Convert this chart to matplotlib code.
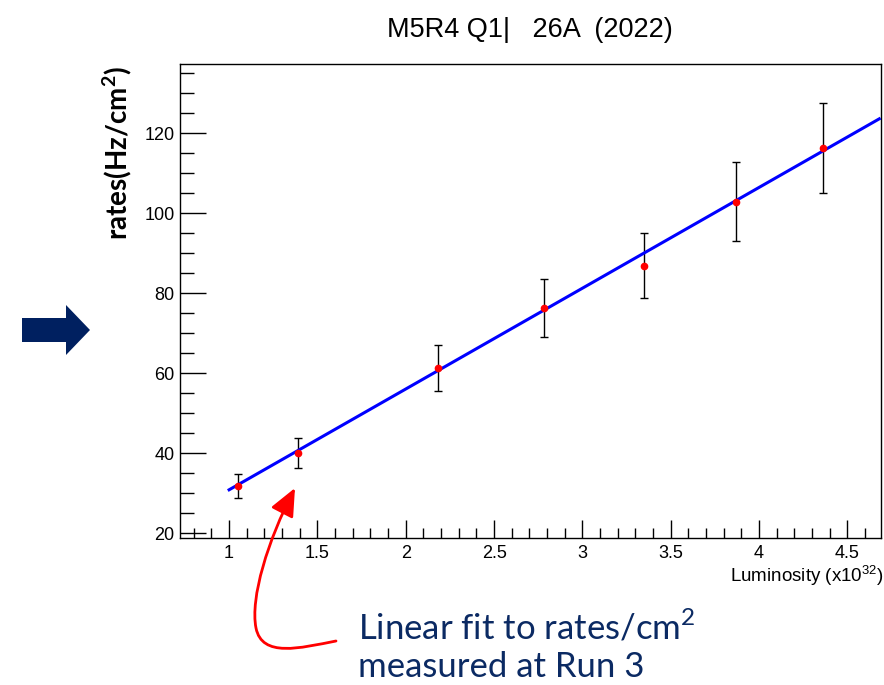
import numpy as np
import matplotlib
matplotlib.use("Agg")
import matplotlib.pyplot as plt
from matplotlib.path import Path
from matplotlib.patches import FancyArrowPatch, Polygon
from matplotlib.ticker import MultipleLocator

# luminosity (x10^32) and measured rates (Hz/cm2) with errors
lumi = [1.05, 1.39, 2.18, 2.78, 3.35, 3.87, 4.36]
rates = [31.8, 40.0, 61.2, 76.2, 86.8, 102.8, 116.3]
rate_err = [3.0, 3.8, 5.8, 7.2, 8.1, 9.9, 11.2]

# linear fit parameters
fit_slope = 25.2
fit_offset = 5.6
fit_range = [1.0, 4.68]

W, H = 884, 685
fig = plt.figure(figsize=(W / 100, H / 100), dpi=100)
ax = fig.add_axes([180 / W, 1 - 538 / H, 701 / W, 474 / H])

xf = np.linspace(fit_range[0], fit_range[1], 200)
ax.plot(xf, fit_offset + fit_slope * xf, color="#0000ff", lw=2.2, zorder=3)
ax.errorbar(lumi, rates, yerr=rate_err, fmt="none", ecolor="black",
            elinewidth=1, capsize=3, capthick=1, zorder=2)
ax.plot(lumi, rates, "o", color="red", ms=4.5, mec="red", zorder=4)

ax.set_xlim(0.722, 4.69)
ax.set_ylim(18.75, 137.25)
ax.xaxis.set_major_locator(MultipleLocator(0.5))
ax.xaxis.set_minor_locator(MultipleLocator(0.1))
ax.yaxis.set_major_locator(MultipleLocator(20))
ax.yaxis.set_minor_locator(MultipleLocator(5))
ax.xaxis.set_major_formatter(plt.FuncFormatter(lambda v, p: f"{v:g}"))
ax.tick_params(axis="x", which="major", direction="in", length=13, width=1, pad=5)
ax.tick_params(axis="x", which="minor", direction="in", length=7, width=1)
ax.tick_params(axis="y", which="major", direction="in", length=19, width=1, pad=4)
ax.tick_params(axis="y", which="minor", direction="in", length=10, width=1)
ax.tick_params(top=False, right=False, labelsize=13)
for lab in ax.get_xticklabels() + ax.get_yticklabels():
    lab.set_fontfamily("Liberation Sans")
for s in ax.spines.values():
    s.set_linewidth(1)

fig.text(530 / W, 1 - 30 / H, "M5R4 Q1|   26A  (2022)", ha="center", va="center",
         fontsize=19.5, family="Liberation Sans")
fig.text(117 / W, 1 - 153 / H, "rates(Hz/cm$^\\mathregular{2}$)", rotation=90,
         ha="center", va="center", fontsize=20, fontweight="bold", family="Lato")
fig.text(884 / W, 1 - 576 / H, "Luminosity (x10$^\\mathregular{32}$)", ha="right",
         va="center", fontsize=13.5, family="Liberation Sans")

# navy block arrow on the left
arrow_px = [(22, 318), (66, 318), (66, 305), (90, 330), (66, 355), (66, 342), (22, 342)]
fig.patches.append(Polygon([(x / W, 1 - y / H) for x, y in arrow_px], closed=True,
                           facecolor="#002060", edgecolor="none",
                           transform=fig.transFigure, figure=fig))

# curved red pointer towards the fit
pts = [(336, 641), (300, 648), (262, 658), (256, 628),
       (250, 598), (268, 540), (295, 488)]
path = Path([(x / W, 1 - y / H) for x, y in pts],
            [Path.MOVETO, Path.CURVE4, Path.CURVE4, Path.CURVE4,
             Path.CURVE4, Path.CURVE4, Path.CURVE4])
pointer = FancyArrowPatch(path=path, arrowstyle="-|>,head_length=17,head_width=7.5",
                          color="#ff0000", lw=2, transform=fig.transFigure)
fig.patches.append(pointer)

fig.text(358 / W, 1 - 627 / H, "Linear fit to rates/cm$^\\mathregular{2}$",
         ha="left", va="center", fontsize=25, color="#0b2a63", family="Lato")
fig.text(358 / W, 1 - 667 / H, "measured at Run 3",
         ha="left", va="center", fontsize=25, color="#0b2a63", family="Lato")

fig.savefig("out.png", dpi=100)
